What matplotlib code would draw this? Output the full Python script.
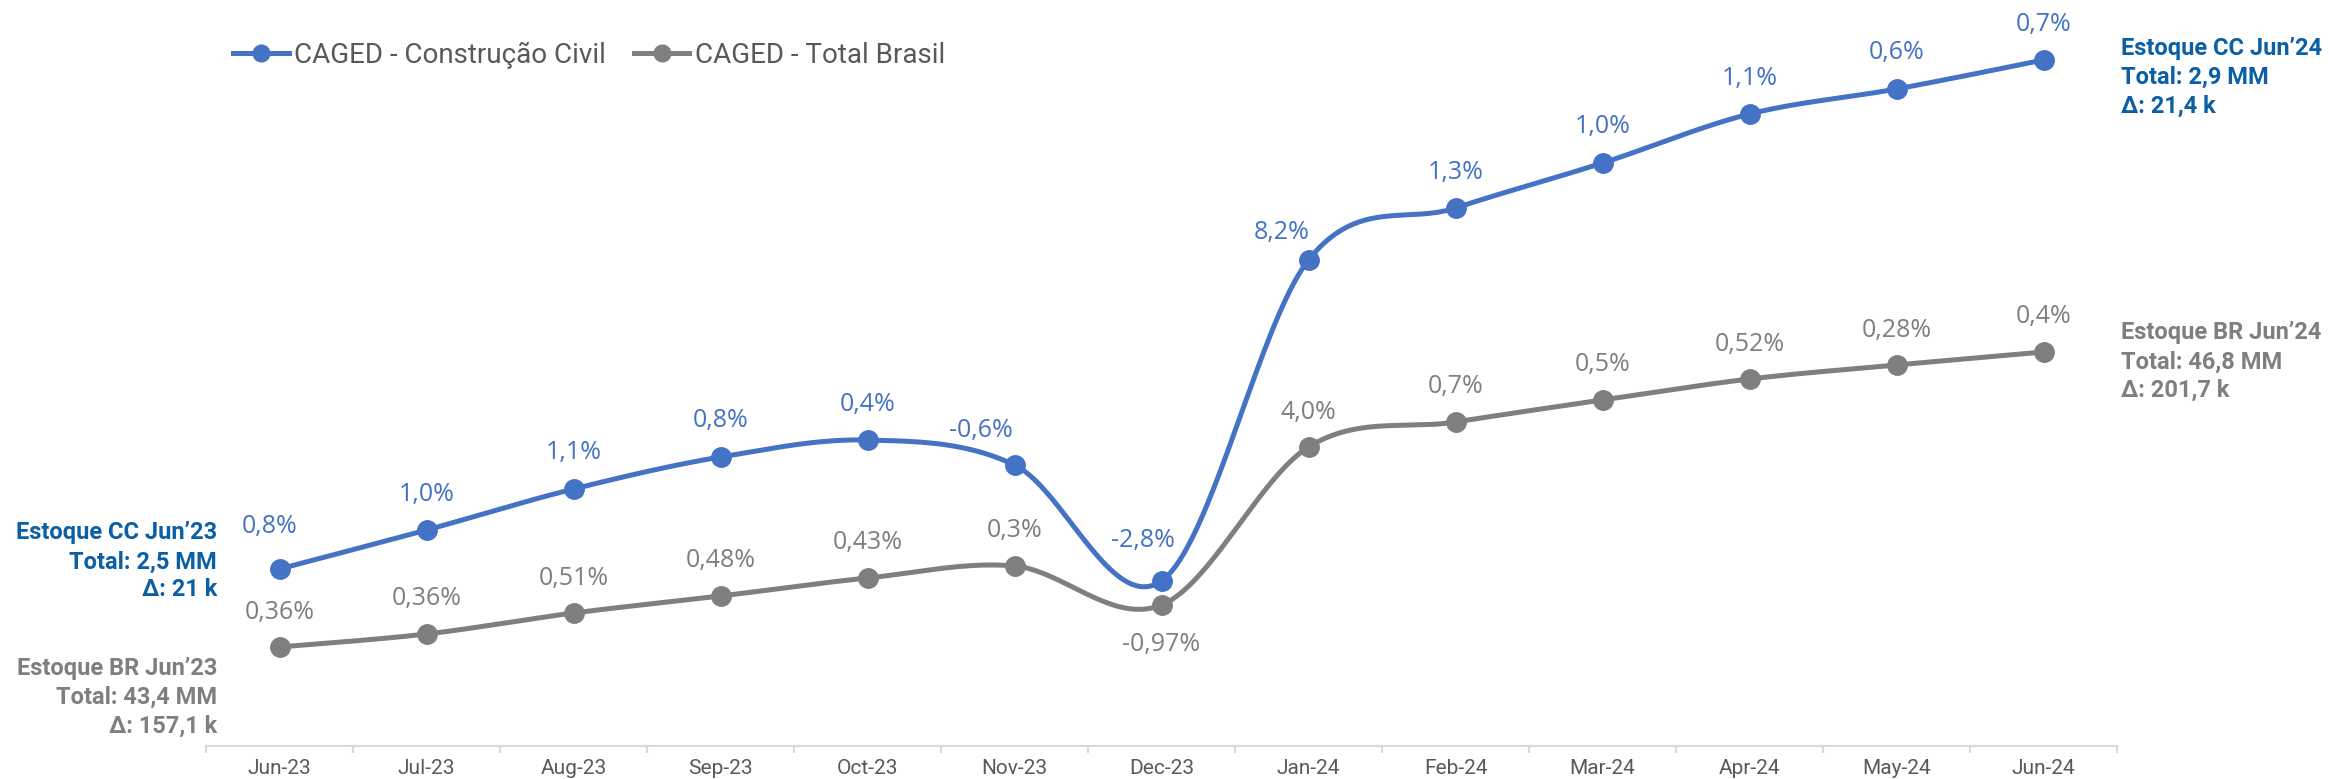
import numpy as np
import matplotlib
matplotlib.use('Agg')
from matplotlib import pyplot as plt
from matplotlib.lines import Line2D

# dados (altura relativa das linhas, sem eixo y visivel)
meses = ['Jun-23', 'Jul-23', 'Aug-23', 'Sep-23', 'Oct-23', 'Nov-23', 'Dec-23',
         'Jan-24', 'Feb-24', 'Mar-24', 'Apr-24', 'May-24', 'Jun-24']
nivel_cc = [177, 216, 257, 289, 306, 281, 165, 486, 538, 583, 632, 657, 686]
nivel_br = [99, 112, 133, 150, 168, 180, 141, 299, 324, 346, 367, 381, 394]
var_cc = ['0,8%', '1,0%', '1,1%', '0,8%', '0,4%', '-0,6%', '-2,8%',
          '8,2%', '1,3%', '1,0%', '1,1%', '0,6%', '0,7%']
var_br = ['0,36%', '0,36%', '0,51%', '0,48%', '0,43%', '0,3%', '-0,97%',
          '4,0%', '0,7%', '0,5%', '0,52%', '0,28%', '0,4%']

nome_cc = 'CAGED - Construção Civil'
nome_br = 'CAGED - Total Brasil'
notas_cc_ini = ['Estoque CC Jun’23', 'Total: 2,5 MM', 'Δ: 21 k']
notas_br_ini = ['Estoque BR Jun’23', 'Total: 43,4 MM', 'Δ: 157,1 k']
notas_cc_fim = ['Estoque CC Jun’24', 'Total: 2,9 MM', 'Δ: 21,4 k']
notas_br_fim = ['Estoque BR Jun’24', 'Total: 46,8 MM', 'Δ: 201,7 k']

azul = '#4472C4'
cinza = '#7F7F7F'
azul_escuro = '#0B5FA5'
texto = '#595959'

W, H = 2329, 779


def suaviza(y, n=40):
    # curva tipo catmull-rom (igual ao "linha suavizada" do excel)
    x = np.arange(len(y), dtype=float)
    y = np.asarray(y, dtype=float)
    xs, ys = [], []
    for i in range(len(y) - 1):
        i0 = max(i - 1, 0)
        i3 = min(i + 2, len(y) - 1)
        p0 = np.array([x[i], y[i]])
        p3 = np.array([x[i + 1], y[i + 1]])
        c1 = p0 + (p3 - np.array([x[i0], y[i0]])) / 6
        c2 = p3 - (np.array([x[i3], y[i3]]) - p0) / 6
        t = np.linspace(0, 1, n)[:, None]
        pts = (1 - t)**3 * p0 + 3 * t * (1 - t)**2 * c1 + 3 * t**2 * (1 - t) * c2 + t**3 * p3
        xs.extend(pts[:, 0])
        ys.extend(pts[:, 1])
    return np.array(xs), np.array(ys)


fig = plt.figure(figsize=(W / 100, H / 100), dpi=100)
ax = fig.add_axes([206 / W, 33 / H, 1911 / W, 746 / H])

x = np.arange(len(meses))
for nivel, cor in [(nivel_cc, azul), (nivel_br, cinza)]:
    xs, ys = suaviza(nivel)
    ax.plot(xs, ys, color=cor, lw=3.6, solid_capstyle='round', zorder=2)
    ax.plot(x, nivel, 'o', color=cor, ms=14, zorder=3)

# deslocamento dos rotulos (pixels)
desl_cc = [(-10, 43), (0, 36), (0, 36), (0, 36), (0, 36), (-34, 34), (-19, 40),
           (-27, 28), (0, 36), (0, 36), (0, 36), (0, 36), (0, 36)]
desl_br = [(0, 35)] * 6 + [(0, -40)] + [(0, 35)] * 6

for i in range(len(meses)):
    ax.annotate(var_cc[i], (x[i], nivel_cc[i]), xytext=desl_cc[i], textcoords='offset pixels',
                ha='center', va='center', color=azul, fontsize=18, family='Open Sans')
    ax.annotate(var_br[i], (x[i], nivel_br[i]), xytext=desl_br[i], textcoords='offset pixels',
                ha='center', va='center', color=cinza, fontsize=18, family='Open Sans')

ax.set_xlim(-0.5, len(meses) - 0.5)
ax.set_ylim(0, 746)
ax.set_xticks(x)
ax.set_xticklabels(meses, fontsize=15, color=texto, family='Roboto')
ax.set_xticks(np.arange(-0.5, len(meses), 1), minor=True)
ax.tick_params(axis='x', which='major', length=0, pad=9)
ax.tick_params(axis='x', which='minor', length=5, width=1.5, color='#D9D9D9', direction='out')
ax.set_yticks([])
for s in ['top', 'right', 'left']:
    ax.spines[s].set_visible(False)
ax.spines['bottom'].set_color('#D9D9D9')
ax.spines['bottom'].set_linewidth(1.5)

# notas de estoque
def notas(linhas, xpix, ypix, cor, ha):
    for k, t in enumerate(linhas):
        fig.text(xpix / W, 1 - ypix[k] / H, t, ha=ha, va='center', color=cor,
                 fontsize=17, fontweight='bold', family='Roboto')

notas(notas_cc_ini, 217, [533, 562, 590], azul_escuro, 'right')
notas(notas_br_ini, 217, [668, 697, 726], cinza, 'right')
notas(notas_cc_fim, 2121, [48, 77, 106], azul_escuro, 'left')
notas(notas_br_fim, 2121, [333, 362, 390], cinza, 'left')

handles = [Line2D([], [], color=azul, lw=3.6, marker='o', ms=12),
           Line2D([], [], color=cinza, lw=3.6, marker='o', ms=12)]
fig.legend(handles, [nome_cc, nome_br], loc='center left', bbox_to_anchor=(233 / W, 1 - 55 / H),
           ncol=2, frameon=False, borderpad=0, borderaxespad=0,
           handlelength=2.0, handletextpad=0.2, columnspacing=1.0,
           prop={'family': 'Roboto', 'size': 20}, labelcolor=texto)

plt.savefig('out.png', dpi=100)
